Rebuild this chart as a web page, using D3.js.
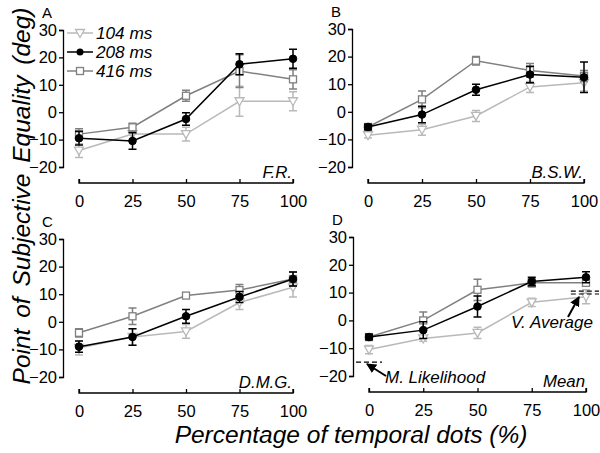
<!DOCTYPE html>
<html><head><meta charset="utf-8">
<script src="https://cdn.jsdelivr.net/npm/d3@7"></script>
<style>body{margin:0;background:#fff}svg{display:block}text{font-family:"Liberation Sans",Arial,sans-serif}</style>
</head><body>
<svg id="c" width="600" height="453"></svg>
<script>
const xCats = [0, 25, 50, 75, 100];
const yTicks = [-20, -10, 0, 10, 20, 30];
const seriesNames = ["104 ms", "208 ms", "416 ms"];
const panelLetters = ["A", "B", "C", "D"];
const subjects = ["F.R.", "B.S.W.", "D.M.G.", "Mean"];

// values [panel][x]
const v104 = [[-14, -8, -8, 4, 4], [-8.5, -6.5, -1.5, 9, 10.5], [-9.5, -5.5, -3.5, 7, 12.5], [-10.5, -6.5, -4.5, 6.5, 8.5]];
const e104 = [[2.5, 2, 2.5, 5.5, 3.5], [1, 2, 2, 2, 3], [2.5, 3, 2.5, 2.5, 3.5], [1.5, 1, 2, 1.5, 2.5]];
const v208 = [[-9.5, -10.5, -2.5, 17.5, 19.5], [-5.5, -1, 8, 13.5, 12.5], [-9, -5.5, 2, 9, 15.5], [-6, -3.5, 5, 14, 15.5]];
const e208 = [[2.5, 3, 2.3, 3.8, 3.5], [1, 3, 2, 3, 5.5], [2, 3, 2.5, 2, 2.5], [1, 3, 3.8, 1.5, 2]];
const v416 = [[-8, -5.5, 6, 15, 12], [-5.5, 4.5, 18.5, 15, 13], [-4, 2, 9.5, 11.5, 15.5], [-6, 0, 11, 13.5, 13.5]];
const e416 = [[2, 1.5, 2, 6, 3.5], [1, 3, 1.5, 2.5, 2], [1.5, 3, 1, 2, 2.5], [1, 3, 3.8, 1.5, 1]];

const mlValue = -15, mlXs = [-6, 6];
const vaValues = [10.5, 9.5], vaXs = [93, 106];

const colors = ["#b9b9b9", "#000000", "#808080"];
const shapes = ["tri", "circle", "square"];

const svg = d3.select("#c");
const panels = [
  {ax: 63, x0: 79, x1: 293, yt: 30, yb: 167},
  {ax: 352, x0: 368, x1: 584, yt: 29, yb: 167},
  {ax: 63, x0: 79, x1: 293, yt: 239, yb: 377},
  {ax: 353, x0: 369, x1: 586, yt: 237, yb: 376}
];
const allVals = [v104, v208, v416], allErrs = [e104, e208, e416];

function marker(g, shape, color, cx, cy) {
  if (shape === "circle") {
    g.append("circle").attr("cx", cx).attr("cy", cy).attr("r", 3.8).attr("fill", color).attr("stroke", color);
  } else if (shape === "square") {
    g.append("rect").attr("x", cx - 3.5).attr("y", cy - 3.5).attr("width", 7).attr("height", 7)
      .attr("fill", "#fff").attr("stroke", color).attr("stroke-width", 1.3);
  } else {
    g.append("path").attr("d", `M${cx-4.5},${cy-3.5}L${cx+4.5},${cy-3.5}L${cx},${cy+4.5}Z`)
      .attr("fill", "#fff").attr("stroke", color).attr("stroke-width", 1.3);
  }
}

panels.forEach((p, pi) => {
  const x = d3.scaleLinear().domain([0, 100]).range([p.x0, p.x1]);
  const y = d3.scaleLinear().domain([-20, 30]).range([p.yb, p.yt]);
  const g = svg.append("g");
  const yAx = g.append("g").attr("transform", `translate(${p.ax},0)`)
    .call(d3.axisLeft(y).tickValues(yTicks).tickSize(4).tickPadding(2));
  const xAx = g.append("g").attr("transform", `translate(0,${p.yb + 16})`)
    .call(d3.axisBottom(x).tickValues(xCats).tickSize(-4).tickPadding(8).tickSizeOuter(0));
  [yAx, xAx].forEach(a => {
    a.select(".domain").attr("stroke", "#000").attr("stroke-width", 1.3);
    a.selectAll(".tick line").attr("stroke", "#000").attr("stroke-width", 1.3);
    a.selectAll("text").attr("font-size", 16.5).attr("fill", "#000")
      .style("font-family", '"Liberation Sans",Arial,sans-serif');
  });
  xAx.select(".domain").attr("d", `M${p.x0},-4V0H${p.x1}V-4`);
  xAx.selectAll(".tick text").attr("dy", "0.95em");

  g.append("text").attr("x", p.ax - 21).attr("y", p.yt - 12).attr("font-size", 15).text(panelLetters[pi]);
  g.append("text").attr("x", p.x1 - 1).attr("y", p.yb + 11).attr("text-anchor", "end")
    .attr("font-size", 16.8).attr("font-style", "italic").text(subjects[pi]);

  [0, 2, 1].forEach(si => {
    const vals = allVals[si][pi], errs = allErrs[si][pi], col = colors[si];
    const sg = g.append("g");
    sg.append("path").attr("d", d3.line().x((d, i) => x(xCats[i])).y(d => y(d))(vals))
      .attr("fill", "none").attr("stroke", col).attr("stroke-width", 1.5);
    vals.forEach((v, i) => {
      const cx = x(xCats[i]);
      const t = y(v + errs[i]), b = y(v - errs[i]);
      sg.append("path").attr("d", `M${cx},${t}V${b}M${cx-4},${t}H${cx+4}M${cx-4},${b}H${cx+4}`)
        .attr("stroke", col).attr("stroke-width", 1.5).attr("fill", "none");
    });
    vals.forEach((v, i) => marker(sg, shapes[si], col, x(xCats[i]), y(v)));
  });

  if (pi === 0) {
    seriesNames.forEach((n, si) => {
      const ly = 33 + si * 19;
      g.append("line").attr("x1", 67).attr("x2", 93).attr("y1", ly).attr("y2", ly)
        .attr("stroke", colors[si]).attr("stroke-width", 1.5);
      const mg = g.append("g");
      if (si === 1) mg.append("circle").attr("cx", 80).attr("cy", ly).attr("r", 3.5).attr("fill", "#000");
      else marker(mg, shapes[si], colors[si], 80, ly);
      g.append("text").attr("x", 96).attr("y", ly + 6).attr("font-size", 17.2).attr("font-style", "italic").text(n);
    });
  }

  if (pi === 3) {
    const dash = "5,3";
    g.append("line").attr("x1", x(mlXs[0])).attr("x2", x(mlXs[1])).attr("y1", y(mlValue)).attr("y2", y(mlValue))
      .attr("stroke", "#000").attr("stroke-width", 1.2).attr("stroke-dasharray", dash);
    vaValues.forEach(vv => {
      g.append("line").attr("x1", x(vaXs[0])).attr("x2", x(vaXs[1])).attr("y1", y(vv)).attr("y2", y(vv))
        .attr("stroke", "#000").attr("stroke-width", 1.2).attr("stroke-dasharray", dash);
    });
    const defs = svg.append("defs");
    defs.append("marker").attr("id", "ah").attr("viewBox", "0 0 10 10").attr("refX", 9).attr("refY", 5)
      .attr("markerWidth", 5).attr("markerHeight", 5).attr("orient", "auto")
      .append("path").attr("d", "M0,0L10,5L0,10Z").attr("fill", "#000");
    g.append("line").attr("x1", 386).attr("y1", 376).attr("x2", 367).attr("y2", 364)
      .attr("stroke", "#000").attr("stroke-width", 2).attr("marker-end", "url(#ah)");
    g.append("text").attr("x", 385).attr("y", 383).attr("font-size", 17).attr("font-style", "italic").text("M. Likelihood");
    g.append("line").attr("x1", 568).attr("y1", 317).attr("x2", 579).attr("y2", 297)
      .attr("stroke", "#000").attr("stroke-width", 2).attr("marker-end", "url(#ah)");
    g.append("text").attr("x", 511).attr("y", 328).attr("font-size", 17).attr("font-style", "italic").text("V. Average");
  }
});

svg.append("text").attr("transform", "translate(30,196) rotate(-90)").attr("text-anchor", "middle")
  .attr("font-size", 24.5).attr("font-style", "italic").attr("word-spacing", 4).text("Point of Subjective Equality (deg)");
svg.append("text").attr("x", 351).attr("y", 443).attr("text-anchor", "middle")
  .attr("font-size", 24.5).attr("font-style", "italic").text("Percentage of temporal dots (%)");
</script>
</body></html>
